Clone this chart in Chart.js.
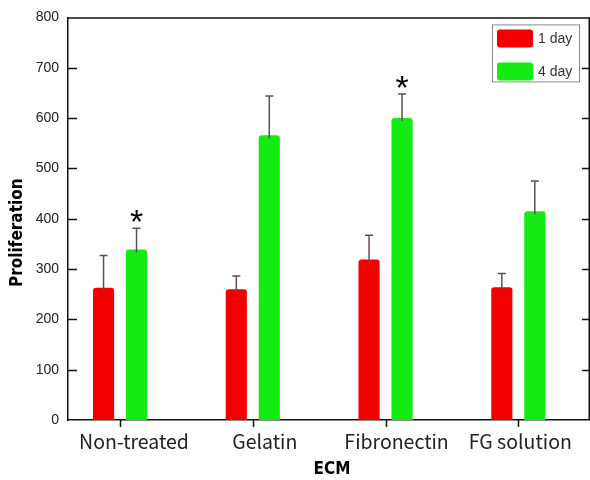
<!DOCTYPE html>
<html>
<head>
<meta charset="utf-8">
<script src="https://cdn.jsdelivr.net/npm/chart.js@4/dist/chart.umd.min.js"></script>
<style>
  html, body { margin: 0; padding: 0; background: #ffffff; }
  #wrap { width: 590px; height: 480px; }
</style>
</head>
<body>
<div id="wrap"><canvas id="prolifChart" width="590" height="480"></canvas></div>
<script>
// values
const categories = ['Non-treated', 'Gelatin', 'Fibronectin', 'FG solution'];
const seriesLabels = ['1 day', '4 day'];
const day1 = [263, 260, 319, 264];
const day1Err = [64, 26, 48, 27];
const day4 = [339, 566, 600, 415];
const day4Err = [42, 78, 48, 60];
const day4Star = [true, false, true, false];
const yTicks = [0, 100, 200, 300, 400, 500, 600, 700, 800];
const xTitle = 'ECM';
const yTitle = 'Proliferation';

const RED = '#f20000';
const GREEN = '#14ea14';
const TITLE_FONT = 'bold 17px "Liberation Sans Narrow", "DejaVu Sans Condensed", sans-serif';
const CAT_FONT = '19.5px "Noto Sans CJK KR", "Noto Sans", sans-serif';
// the original category labels sit a little right of their tick marks
const labelNudge = [14, 12, 11, 2];

function toPoints(values) {
  return values.map((v, i) => ({ x: i + 1, y: v }));
}

// frame, ticks, error bars, stars, labels, titles and the boxed legend
const decorations = {
  id: 'decorations',
  afterDatasetsDraw(chart) {
    const ctx = chart.ctx;
    const area = chart.chartArea;
    const x = chart.scales.x;
    const y = chart.scales.y;

    ctx.save();
    ctx.strokeStyle = '#111';
    ctx.lineWidth = 1.5;
    ctx.beginPath();
    ctx.moveTo(area.left, area.top + 0.5);
    ctx.lineTo(area.right - 0.75, area.top + 0.5);
    ctx.lineTo(area.right - 0.75, area.bottom);
    ctx.stroke();

    // inward tick marks on left and right
    yTicks.slice(1, -1).forEach(t => {
      const py = Math.round(y.getPixelForValue(t)) + 0.5;
      ctx.beginPath();
      ctx.moveTo(area.left, py);
      ctx.lineTo(area.left + 9, py);
      ctx.moveTo(area.right, py);
      ctx.lineTo(area.right - 8, py);
      ctx.stroke();
    });

    // outward tick marks under each category
    categories.forEach((c, i) => {
      const px = Math.round(x.getPixelForValue(i + 1)) + 0.5;
      ctx.beginPath();
      ctx.moveTo(px, area.bottom);
      ctx.lineTo(px, area.bottom + 7);
      ctx.stroke();
    });

    // error bars (upper half only)
    const errs = [day1Err, day4Err];
    const errColors = ['#6a4a4a', '#555555'];
    chart.data.datasets.forEach((ds, di) => {
      const meta = chart.getDatasetMeta(di);
      meta.data.forEach((bar, i) => {
        const v = ds.data[i].y;
        const top = y.getPixelForValue(v + errs[di][i]);
        const base = y.getPixelForValue(v) + 3;
        ctx.strokeStyle = errColors[di];
        ctx.lineWidth = 1.5;
        ctx.beginPath();
        ctx.moveTo(bar.x, base);
        ctx.lineTo(bar.x, top);
        ctx.moveTo(bar.x - 4, top);
        ctx.lineTo(bar.x + 4, top);
        ctx.stroke();
        if (di === 1 && day4Star[i]) {
          ctx.fillStyle = '#000';
          ctx.font = '34px "Liberation Sans", Arial, sans-serif';
          ctx.textAlign = 'center';
          ctx.textBaseline = 'alphabetic';
          ctx.fillText('*', bar.x, top + 5);
        }
      });
    });

    // category labels
    ctx.fillStyle = '#222';
    ctx.font = CAT_FONT;
    ctx.textAlign = 'center';
    ctx.textBaseline = 'alphabetic';
    categories.forEach((c, i) => {
      ctx.fillText(c, x.getPixelForValue(i + 1) + labelNudge[i], area.bottom + 29);
    });

    // axis titles
    ctx.fillStyle = '#000';
    ctx.font = TITLE_FONT;
    ctx.textAlign = 'center';
    ctx.textBaseline = 'middle';
    ctx.fillText(xTitle, (area.left + area.right) / 2 + 3, chart.height - 10);
    ctx.save();
    ctx.translate(18, (area.top + area.bottom) / 2 + 14);
    ctx.rotate(-Math.PI / 2);
    ctx.fillText(yTitle, 0, 0);
    ctx.restore();

    // legend box in the upper right corner
    const bx = area.right - 98;
    const by = area.top + 7;
    ctx.strokeStyle = '#8a8a8a';
    ctx.lineWidth = 1;
    ctx.strokeRect(bx + 0.5, by + 0.5, 87, 57);
    const colors = [RED, GREEN];
    seriesLabels.forEach((lab, k) => {
      const sy = by + 5 + k * 33;
      ctx.fillStyle = colors[k];
      ctx.beginPath();
      ctx.roundRect(bx + 5, sy, 36, 18, 3);
      ctx.fill();
      ctx.fillStyle = '#333';
      ctx.font = '14px "Liberation Sans", Arial, sans-serif';
      ctx.textAlign = 'left';
      ctx.textBaseline = 'middle';
      ctx.fillText(lab, bx + 46, sy + 9.5);
    });
    ctx.restore();
  }
};

const ctx = document.getElementById('prolifChart').getContext('2d');
const chart = new Chart(ctx, {
  type: 'bar',
  data: {
    datasets: [
      { label: seriesLabels[0], data: toPoints(day1), backgroundColor: RED, borderRadius: 3, borderSkipped: 'bottom' },
      { label: seriesLabels[1], data: toPoints(day4), backgroundColor: GREEN, borderRadius: 3, borderSkipped: 'bottom' }
    ]
  },
  options: {
    responsive: false,
    animation: false,
    layout: { padding: { top: 15, right: 0, left: 0, bottom: 0 } },
    datasets: { bar: { categoryPercentage: 0.497, barPercentage: 0.64 } },
    plugins: { legend: { display: false }, tooltip: { enabled: false } },
    scales: {
      x: {
        type: 'linear',
        offset: false,
        min: 0.608,
        max: 4.54,
        afterBuildTicks: (scale) => { scale.ticks = categories.map((c, i) => ({ value: i + 1 })); },
        afterFit: (scale) => { scale.height = 60; },
        ticks: { display: false },
        grid: { display: false },
        border: { display: true, color: '#111', width: 1.5 }
      },
      y: {
        min: 0,
        max: 800,
        afterBuildTicks: (scale) => { scale.ticks = yTicks.map(v => ({ value: v })); },
        afterFit: (scale) => { scale.width = 68; },
        ticks: {
          font: { family: '"Liberation Sans", Arial, sans-serif', size: 14 },
          color: '#222',
          padding: 9
        },
        grid: { display: false, drawTicks: false },
        border: { display: true, color: '#111', width: 1.5 }
      }
    }
  },
  plugins: [decorations]
});
</script>
</body>
</html>
